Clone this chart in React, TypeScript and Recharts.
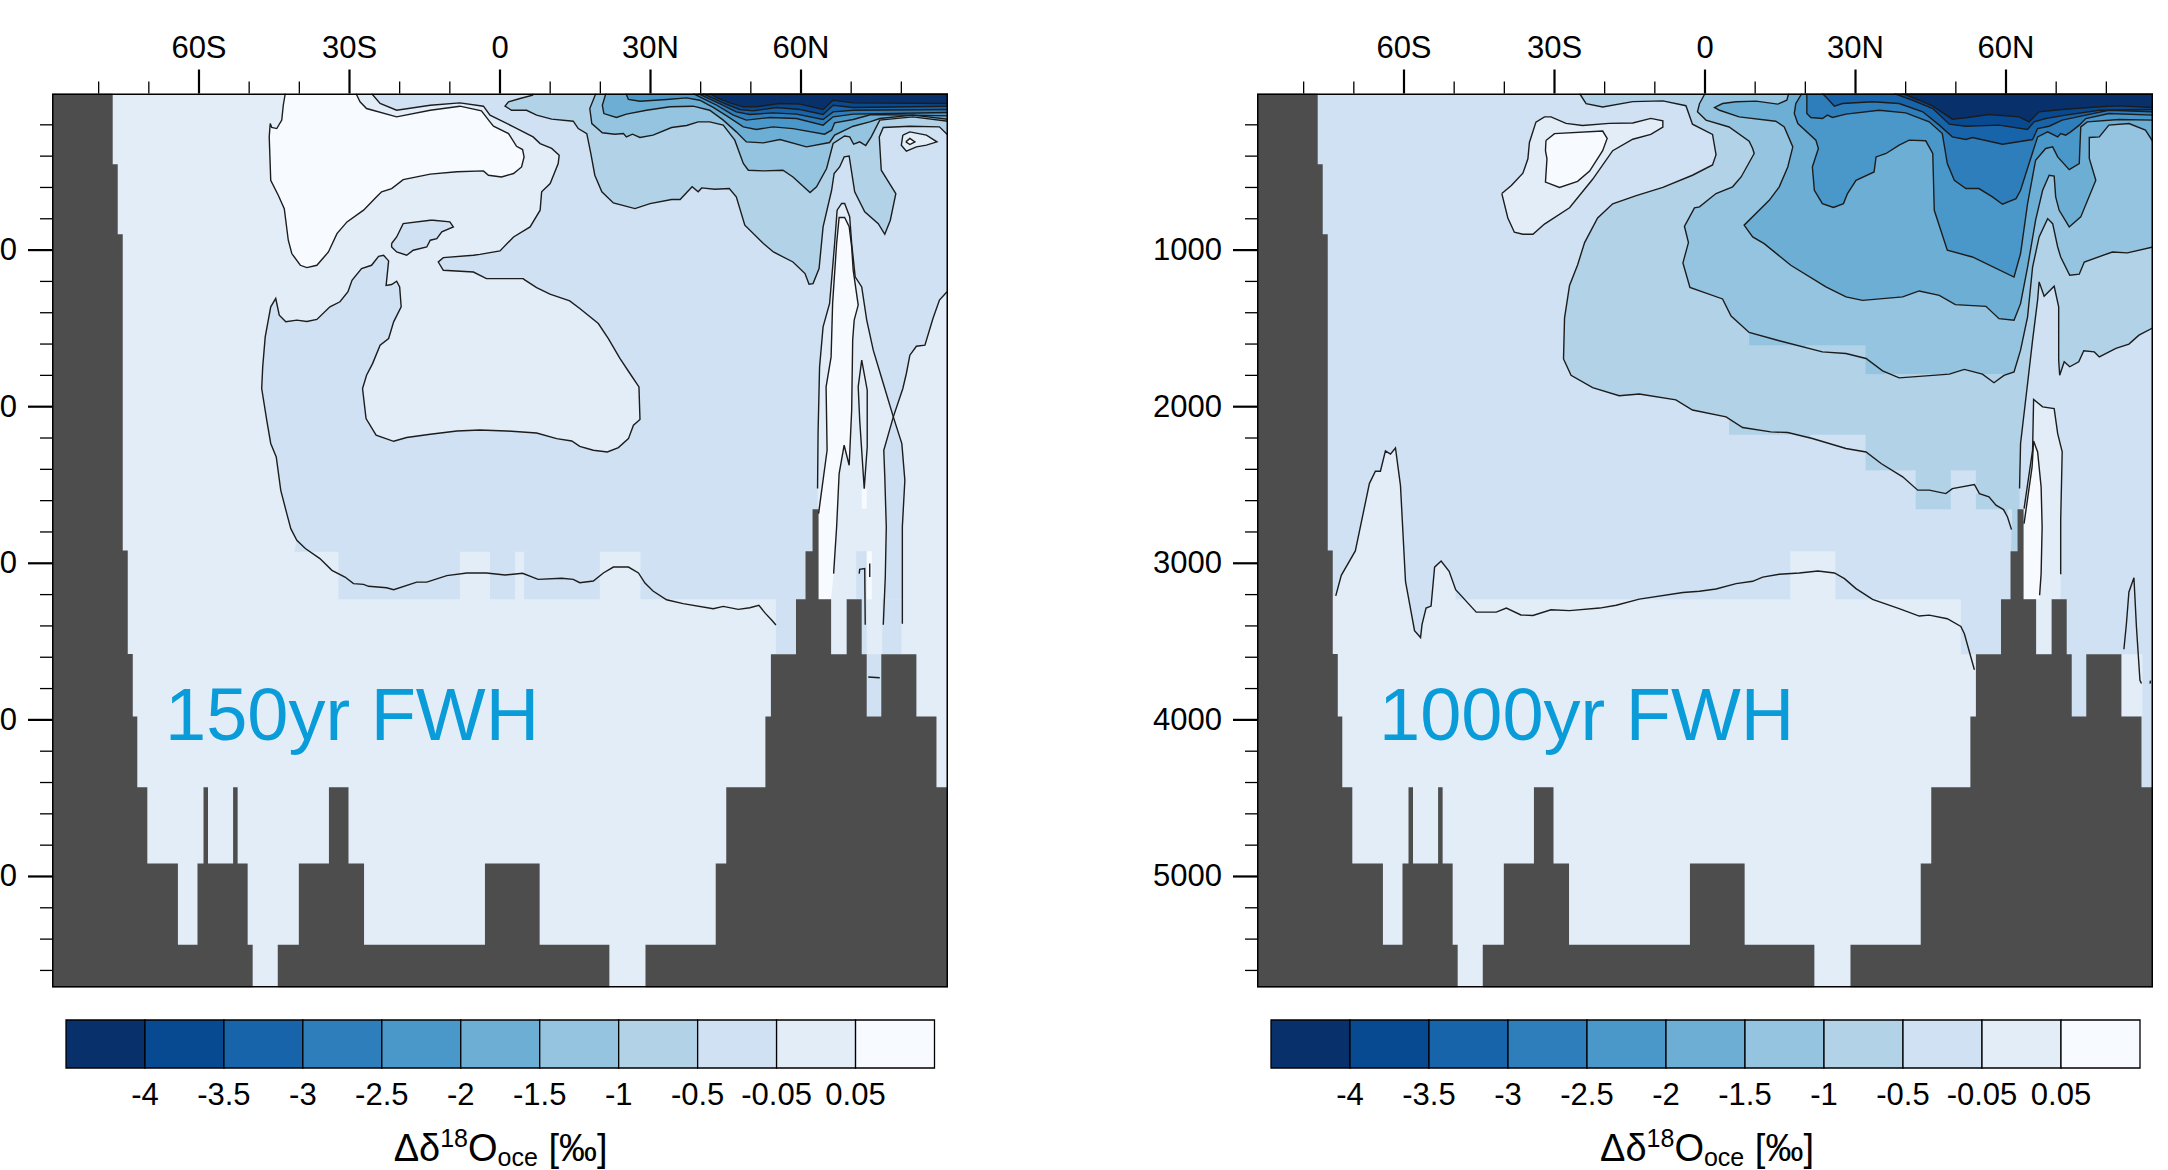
import React from 'react';
import { ComposedChart, BarChart, Bar, Scatter, XAxis, YAxis, Polygon } from 'recharts';

type P = [number, number];

const LAT_MIN = -89.3, LAT_MAX = 89.3, DEPTH_MAX = 5709;
const latTicks = [-80, -70, -60, -50, -40, -30, -20, -10, 0, 10, 20, 30, 40, 50, 60, 70, 80];
const latLabels: Record<number, string> = { [-60]: '60S', [-30]: '30S', 0: '0', 30: '30N', 60: '60N' };
const depthTicks = [200,400,600,800,1000,1200,1400,1600,1800,2000,2200,2400,2600,2800,3000,3200,3400,3600,3800,4000,4200,4400,4600,4800,5000,5200,5400,5600];

const C = { c1:'#08306b', c2:'#084a91', c3:'#1764ab', c4:'#2e7ebc', c5:'#4a98c9', c6:'#6daed5', c7:'#94c4df', c8:'#b2d2e8', c9:'#cfe1f2', c10:'#e2edf8', c11:'#f7fbff' };
const barColors = [C.c1,C.c2,C.c3,C.c4,C.c5,C.c6,C.c7,C.c8,C.c9,C.c10,C.c11];
const barLabels = ['-4','-3.5','-3','-2.5','-2','-1.5','-1','-0.5','-0.05','0.05'];

// Sea floor: lat edges and the depth of the floor in each column
const floorEdges = [-89.3,-77.2,-76.2,-75.2,-74.2,-73.2,-72.3,-70.3,-64.2,-60.3,-59.1,-58.2,-53.2,-52.3,-50.3,-49.3,-44.3,-40.1,-34.1,-30.2,-27.1,-3,7.9,21.8,29,43,45.1,52.9,54,59,60.9,62.3,63.5,66,69.1,72.1,73.1,76,83,87,89.3];
const floorDepths = [0,452,899,2919,3580,3978,4431,4917,5436,4917,4431,4917,4431,4917,5436,5709,5436,4917,4431,4917,5436,4917,5436,5709,5436,4917,4431,3978,3581,3230,2923,2655,3230,3581,3230,3581,3978,3581,3978,4431];

const domainBox: P[] = [[LAT_MIN,0],[LAT_MAX,0],[LAT_MAX,DEPTH_MAX],[LAT_MIN,DEPTH_MAX]];
const frameLine: P[] = [...domainBox, [LAT_MIN,0], [LAT_MAX,0]];

// ---------- 150yr panel ----------
const a05Upper: P[] = [[-25.6,0],[-23.9,64],[-20.6,107],[-13.9,75],[-8,60],[-3.3,81],[-2,138],[2.7,213],[6.6,277],[8,320],[10.3,351],[11.8,394],[11.6,447],[10,575],[8.3,628],[8,745],[6,852],[2.7,916],[0,1005],[-4,1027],[-5.3,1033],[-11.3,1048],[-12.3,1076],[-11.3,1129],[-5.3,1140],[-2.7,1182],[0,1182],[4.6,1182],[5,1192],[7.3,1239],[9.96,1281],[13.9,1324],[15.9,1373],[19.6,1469],[21.6,1565],[23.9,1692],[25.9,1788],[27.7,1874],[27.9,2082],[26.6,2118],[25.6,2204],[23.6,2261],[21.4,2289],[18.6,2278],[15.9,2253],[14.3,2219],[11.3,2204],[7.3,2168],[1.3,2155],[-4,2149],[-8.6,2155],[-13.9,2176],[-18.6,2197],[-21.2,2221],[-24.7,2182],[-26.7,2076],[-27.4,1884],[-26.6,1799],[-25.4,1725],[-23.9,1607],[-22.2,1565],[-21.2,1458],[-19.7,1362],[-20,1235],[-20.6,1199],[-21.6,1220],[-22.7,1225],[-22.2,1069],[-23.2,1033],[-24.2,1040],[-25.6,1097],[-27.6,1118],[-29.5,1193],[-30.3,1266],[-31.9,1330],[-33.9,1362],[-36.5,1443],[-38.5,1456],[-40.5,1447],[-42.7,1458],[-44,1416],[-44.7,1309]];
const a05West: P[] = [[-45.7,1362],[-46.8,1554],[-47.3,1746],[-47.5,1884],[-46.5,2086],[-45.7,2235],[-44.6,2321],[-43.7,2534],[-42.5,2683],[-41.7,2779],[-40.5,2853]];
const a05FloorLine: P[] = [[-38.8,2906],[-35.9,2970],[-33.5,3045],[-30.9,3088],[-29.2,3130],[-27.2,3135],[-26.2,3147],[-22.6,3156],[-21.2,3169],[-16.6,3120],[-14.6,3120],[-10.6,3079],[-6.6,3062],[-2.7,3062],[1,3075],[4.5,3064],[7.6,3103],[12.3,3096],[14.6,3103],[15.9,3124],[18.6,3113],[20.6,3062],[22.6,3024],[25.6,3024],[27.6,3062],[28.9,3126],[30.5,3177],[33.2,3233],[36.5,3258],[42.5,3290],[44.5,3275],[47.5,3294],[49.8,3284],[51.6,3269],[52.9,3320],[54.1,3361],[55,3394]];
const a05FloorBlocks: P[] = [[-41,2927],[-32.2,2927],[-32.2,3230],[-8,3230],[-8,2927],[-2,2927],[-2,3230],[3,3230],[3,2927],[4.8,2927],[4.8,3230],[19.9,3230],[19.9,2927],[28,2927],[28,3230],[55,3230],[55,3581],[59.3,3581],[59.3,3230],[89.3,3230],[89.3,0]];
const island: P[] = [[-21.6,958],[-20.6,916],[-19.3,831],[-13.9,809],[-13.3,809],[-10,820],[-9.3,852],[-11.6,884],[-12.6,927],[-13.9,937],[-14.6,980],[-17.3,1001],[-18.6,1033],[-20.6,1012],[-21.6,980],[-21.6,958]];
const whiteLobe: P[] = [[-42.8,0],[-43.2,75],[-43.5,170],[-44.5,224],[-45.5,217],[-45.8,192],[-46,277],[-45.7,554],[-44.2,650],[-43,735],[-42.2,937],[-41.5,1022],[-39.8,1097],[-38.5,1112],[-36.5,1097],[-34.2,1012],[-32.5,895],[-30.5,820],[-27.2,745],[-24.6,660],[-23.6,628],[-21.6,607],[-19.3,550],[-13.9,515],[-8.6,500],[-3.3,494],[-2.3,522],[0.3,533],[2.7,511],[4.3,469],[4.8,405],[4.5,358],[3.3,337],[1.7,256],[-1.3,209],[-2,181],[-3.7,111],[-8,81],[-13.9,107],[-20.6,149],[-26.6,96],[-27.9,53],[-28.7,0]];
const spikeUpper: P[] = [[63.3,2523],[63.4,2172],[63.7,1746],[64.4,1490],[65.7,1341],[66.7,958],[67.2,745],[68.1,702],[68.7,702],[69.7,787],[70.1,958],[70.8,1171],[72.1,1235],[73.1,1447],[74.4,1639],[76.4,1852],[78.4,2065]];
const spikeEastLower: P[] = [[80.1,2236],[80.7,2470],[80.2,2768],[80.2,3386]];
const eastUpper: P[] = [[89.1,1266],[87.6,1319],[86.3,1437],[84.7,1607],[83,1614],[81.7,1671],[81,1788],[80.3,1884],[78.4,2065]];
const eastLower: P[] = [[76.5,2278],[76.7,2448],[77,2768],[76.8,3087],[76.4,3392]];
const whiteSpike: P[] = [[63.5,2683],[65.2,2278],[65,1873],[66,1682],[66.3,1341],[67.1,958],[67.6,792],[68.7,792],[69.6,851],[70.1,979],[70.4,1128],[71.4,1351],[70.6,1447],[70.3,1575],[70.1,2023],[69.6,2374],[68.6,2246],[67.6,2427],[67.1,2768],[66.5,3066]];
const whiteSpikeClose: P[] = [[66,3230],[63.1,3230],[63.1,2661]];
const lens: P[] = [[72.1,1703],[73.2,1895],[73.2,2256],[72.6,2523],[71.7,2086],[71.4,1873],[72.1,1703]];
const stubA: P[] = [[71.6,3066],[71.7,3039],[72.7,3034],[72.8,3392]];
const stubB: P[] = [[73.7,3002],[73.7,3088]];
const stubC: P[] = [[73.4,3726],[75.7,3731]];
const patchA: P[] = [[71,2923],[73.1,2923],[73.1,3230],[71,3230]];
const patchB: P[] = [[72.1,3230],[73.1,3230],[73.1,3581],[72.1,3581]];
const patchC: P[] = [[73.1,3581],[76,3581],[76,3978],[73.1,3978]];
const patchD: P[] = [[76.2,3230],[80,3230],[80,3581],[76.2,3581]];
const patchW1: P[] = [[73.1,2923],[74.1,2923],[74.1,3230],[73.1,3230]];
const patchW2: P[] = [[72.1,2523],[73.1,2523],[73.1,2651],[72.1,2651]];

const k1: P[] = [[6.5,0],[6.5,11],[4,32],[1.7,53],[1,81],[2.3,107],[5.3,107],[7.3,138],[10.3,164],[14.6,177],[15.6,224],[17.3,256],[18.1,383],[18.9,522],[20.3,628],[22.6,699],[26.9,735],[29.9,703],[34.2,677],[35.9,677],[38.3,596],[39.5,628],[40.2,603],[42.8,611],[45.7,607],[47.1,660],[48.8,841],[52.5,958],[54.5,1012],[58.4,1076],[60.8,1150],[61.6,1218],[62.4,1214],[63.6,1118],[64.4,852],[66.1,618],[66.6,511],[67.7,469],[68.6,405],[69.6,400],[70.7,628],[72.7,756],[75.4,831],[76.7,899],[77.8,809],[78.9,639],[76,490],[75.6,277],[76.4,217],[81.7,209],[87.6,213],[89.3,266]];
const k2: P[] = [[19.1,0],[17.9,96],[18.3,192],[20.4,251],[22.9,260],[24.6,256],[25.2,277],[26.4,260],[27.9,281],[30.5,266],[34.2,217],[37.2,204],[39.5,181],[41.8,181],[44.5,202],[46.8,298],[48.5,447],[49.5,490],[52.5,494],[56.4,490],[58.4,533],[61.8,633],[63.1,596],[65.1,479],[66.4,319],[68.7,271],[69.7,277],[70.5,324],[71.7,309],[72.9,332],[74,277],[75.7,170],[82.3,149],[89.3,177]];
const k3: P[] = [[21.1,0],[20.4,75],[20.7,128],[23.2,153],[25.2,132],[29.2,107],[33.9,85],[38.5,81],[41.8,107],[44.5,170],[47.1,245],[49.1,309],[52.5,315],[55.8,294],[61.1,341],[65.7,313],[66.7,266],[70.4,209],[73.7,181],[75.7,160],[82.3,138],[89.3,164]];
const k4: P[] = [[25.1,0],[25.6,38],[27.9,49],[33.2,38],[37.2,28],[39.8,43],[42.5,89],[45.5,149],[48.5,213],[51.1,230],[54.4,213],[58.4,224],[64.7,260],[66.1,234],[66.7,187],[70.4,166],[74,134],[89.3,143]];
const k5: P[] = [[38.5,0],[40.5,32],[43.2,75],[46.5,138],[49.1,170],[53.8,153],[59.1,160],[64.4,202],[66.4,149],[70.4,132],[89.3,121]];
const k6: P[] = [[39.5,0],[41.2,26],[43.8,64],[47.1,117],[49.8,134],[54.4,124],[59.1,132],[64.4,166],[66.4,117],[70.4,107],[89.3,102]];
const k7: P[] = [[40.4,0],[42.2,26],[44.8,64],[47.8,102],[50.5,111],[55.1,89],[59.8,102],[64.4,134],[66.4,75],[70.4,89],[89.3,81]];
const k8: P[] = [[41.8,0],[43.2,26],[45.8,60],[48.5,85],[51.1,85],[55.8,64],[59.8,68],[64.4,102],[66.4,43],[70.4,60],[89.3,64]];
const blob: P[] = [[80.3,266],[81.7,245],[85,266],[87.1,309],[85,330],[83,341],[81,368],[80,330],[80.3,266]];
const diamond: P[] = [[80.9,309],[81.7,287],[82.7,309],[81.7,326],[80.9,309]];

const topRight: P[] = [[LAT_MAX,0]];

const fills150: [P[], string][] = [
  [domainBox, C.c10],
  [[...a05Upper, ...a05West, ...a05FloorBlocks], C.c9],
  [island, C.c9],
  [whiteLobe, C.c11],
  [[...spikeUpper, ...eastLower, [63.3,3392]], C.c10],
  [[...eastUpper, ...spikeEastLower, [LAT_MAX,3386], [LAT_MAX,1266]], C.c10],
  [[...whiteSpike, ...whiteSpikeClose], C.c11],
  [patchA, C.c9], [patchB, C.c9], [patchC, C.c9], [patchD, C.c9], [patchW1, C.c11], [patchW2, C.c11],
  [[...k1, ...topRight], C.c8], [[...k2, ...topRight], C.c7], [[...k3, ...topRight], C.c6], [[...k4, ...topRight], C.c5],
  [[...k5, ...topRight], C.c4], [[...k6, ...topRight], C.c3], [[...k7, ...topRight], C.c2], [[...k8, ...topRight], C.c1],
  [blob, C.c10], [diamond, C.c11],
];
const lines150: P[][] = [
  [...a05Upper, ...a05West, ...a05FloorLine], island, whiteLobe,
  k1, k2, k3, k4, k5, k6, k7, k8, blob, diamond,
  [...spikeUpper, ...spikeEastLower], [...eastUpper, ...eastLower], whiteSpike, lens, stubA, stubB, stubC,
];

// ---------- 1000yr panel ----------
const lowerLine: P[] = [[-73.6,3208],[-72.5,3077],[-69.7,2921],[-66.9,2491],[-65.7,2412],[-64.7,2412],[-63.7,2282],[-62.7,2303],[-61.7,2264],[-60.7,2504],[-59.7,3116],[-57.9,3430],[-56.7,3474],[-56.4,3390],[-55.6,3286],[-54.6,3273],[-53.9,3025],[-52.6,2986],[-51,3051],[-49.7,3169]];
const lowerLine2: P[] = [[-45.6,3312],[-41.6,3312],[-39.6,3286],[-36.7,3330],[-34.3,3333],[-30.7,3297],[-27,3302],[-21,3286],[-17.7,3268],[-13.1,3229],[-4.4,3187],[-1.1,3179],[2.2,3164],[6.2,3130],[9.5,3115],[11.5,3088],[14.8,3070],[18.8,3062],[22.5,3049],[25.8,3062],[27.8,3098],[30.1,3162],[33.4,3230],[38.7,3290],[42.7,3337],[44.7,3331],[48.3,3354],[51,3403],[51.7,3450],[53.7,3680]];
const lowerBlocks: P[] = [[-49.7,3230],[17,3230],[17,2923],[26,2923],[26,3230],[51,3230],[51,3581],[60,3581],[60,5709],[-75,5709],[-75,3208]];
const farEastPeak: P[] = [[83.5,3549],[84,3386],[84.5,3183],[85.5,3092],[86,3407],[86.7,3747],[87,3768]];
const farEastStub: P[] = [[88.7,3768],[88.8,3750]];
const farEastPatch: P[] = [[83,3581],[87.2,3581],[87.2,3978],[83,3978]];
const lobeLight: P[] = [[-40.5,639],[-38.6,587],[-36.3,509],[-35.3,417],[-35,313],[-33.7,183],[-32,149],[-30.7,149],[-27.7,191],[-24.4,204],[-19.1,191],[-14.4,188],[-10.8,159],[-8.4,175],[-8.4,214],[-10.8,261],[-14.4,292],[-18.4,365],[-22.4,548],[-27,730],[-32,834],[-34.3,899],[-36.3,899],[-38,886],[-39.3,795],[-40.5,639]];
const lobeWhite: P[] = [[-31.7,300],[-30,256],[-20.4,240],[-19.5,287],[-20.4,365],[-23,495],[-25.4,561],[-29,600],[-31.8,566],[-31.5,417],[-31.8,365],[-31.7,300]];
const r1West: P[] = [[-25,0],[-23.7,65],[-20.4,86],[-14.4,52],[-8.4,47],[-3.8,78],[-2.5,196],[1.5,261],[2.2,391],[1.5,456],[-2.5,522],[-8.4,600],[-13.7,652],[-18.4,704],[-21.4,795],[-24,952],[-25.4,1095],[-27,1226],[-28,1434],[-28.2,1695],[-26.7,1800],[-22.4,1878],[-17.1,1930],[-13.1,1919],[-5.8,1956],[-2.5,2021],[4.2,2065],[7.5,2133],[13.1,2161],[16.5,2165],[21.4,2203],[28.1,2267],[32.1,2289],[35.1,2363],[39.4,2448],[42.4,2533],[44.7,2533],[48,2555],[49.3,2523],[53.7,2497],[54.7,2555],[56.6,2576],[58,2629],[59.5,2657],[60.3,2704],[61.1,2785]];
const r1East: P[] = [[62.7,2523],[62.9,2235],[64.3,1852],[65.3,1575],[66.3,1320],[66.6,1203],[67.6,1295],[69.6,1231],[70.5,1363],[70.5,1704],[70.7,1799],[71.6,1713],[72.7,1745],[74.5,1713],[75.5,1643],[77.6,1650],[78.6,1682],[81.9,1628],[84.5,1600],[86.5,1543],[89.3,1496]];
const r1Gap: P[] = [[61,2923],[62.3,2923],[62.7,2650]];
const r2: P[] = [[0,0],[-1.1,65],[-1.5,117],[0.2,170],[4.8,214],[8.8,305],[9.5,351],[9.8,383],[7.2,533],[5.5,596],[2.2,639],[-1.1,724],[-2.1,730],[-4.1,848],[-3.3,952],[-4.4,1082],[-3,1239],[3.5,1312],[5.2,1421],[8.8,1526],[14.8,1579],[23.4,1650],[28.1,1660],[32.1,1692],[35.4,1771],[38.7,1816],[43.4,1805],[48.7,1792],[51.7,1762],[55.3,1792],[57.6,1847],[59.6,1800],[61.6,1778],[62.9,1639],[64.3,1426],[65.3,1108],[66.6,916],[68.3,799],[69.3,831],[70.3,980],[70.9,1044],[72.7,1161],[74.6,1154],[75.6,1076],[81.2,1012],[84.2,1018],[89.3,980]];
const r3: P[] = [[16.7,0],[16.3,43],[14.5,68],[10.2,49],[6.2,53],[3.5,64],[1.9,89],[2.9,107],[6.8,149],[14.1,177],[15.8,213],[17.5,341],[16.5,469],[14.8,596],[12.8,682],[7.8,841],[9.5,916],[11.8,959],[17.1,1097],[24.1,1235],[28.1,1299],[31.4,1321],[39.4,1299],[42.7,1261],[46.7,1289],[49.9,1348],[56,1359],[58.6,1438],[61.6,1448],[62.9,1342],[64.3,1108],[65.9,809],[67.3,618],[68.6,522],[69.6,528],[69.9,660],[70.6,746],[72.6,852],[74.9,788],[77.9,554],[76.6,415],[76.6,281],[78.6,277],[80.5,202],[84.5,192],[87.8,234],[89.3,309]];
const r4: P[] = [[19.3,0],[18.1,64],[17.8,128],[18.5,192],[22.1,298],[22.6,351],[21.4,469],[21.8,618],[23.4,703],[25.6,728],[27.6,703],[28.4,639],[30.1,554],[33.7,501],[34.1,405],[36.1,383],[38.7,330],[40.7,298],[44,302],[45.4,383],[45.7,746],[48.3,1001],[53.3,1044],[61.6,1172],[62.9,1022],[64.3,703],[65.9,426],[67.9,351],[69.3,341],[70.3,405],[72.6,486],[74.6,447],[74.9,213],[76.2,181],[82.5,166],[89.3,170]];
const r5: P[] = [[20.3,0],[20.3,128],[21.1,153],[23.4,160],[24.4,138],[25.4,153],[28.1,132],[34.7,107],[40,124],[44.7,181],[47.3,256],[48.3,447],[49.7,554],[52,607],[54.6,607],[57.3,660],[59.3,707],[62,671],[62.9,618],[64.6,447],[66.3,277],[68.3,245],[70.3,277],[70.9,256],[71.9,266],[72.9,245],[74.6,202],[75.9,160],[80.5,128],[89.3,138]];
const r6: P[] = [[23.4,0],[24.4,32],[25.8,81],[27.4,64],[33.4,53],[38.7,64],[43.4,117],[46.7,202],[49.3,277],[52,294],[53.3,281],[59.3,324],[65.3,294],[66.3,224],[68.6,209],[71.2,170],[75.9,138],[80.5,107],[89.3,117]];
const r7: P[] = [[37.7,0],[41.4,43],[45.4,96],[48.7,196],[52,209],[58.6,202],[64.3,230],[65.6,181],[67.9,160],[71.9,138],[78.6,107],[89.3,102]];
const r8: P[] = [[39.4,0],[42.7,43],[45.4,81],[49.3,164],[52,155],[56.6,134],[62.6,149],[64.6,181],[66.6,117],[71.2,102],[78.6,85],[82.5,79],[89.3,89]];
const lightPeak: P[] = [[70.9,3070],[70.9,2725],[71.2,2289],[70.3,2172],[69.6,2012],[67.3,2001],[65.5,1954],[65.3,2278],[63.6,2651]];
const lightPeakClose: P[] = [[63.6,3230],[66,3230],[66,3581],[69,3581],[69,3230],[70.9,3230]];
const whitePeak: P[] = [[66.7,3204],[67,3066],[67.2,2768],[67,2513],[66.3,2289],[65.5,2219],[65.2,2384],[63.6,2747]];
const whitePeakClose: P[] = [[63,2800],[63,3230],[66.7,3230]];
// Coarse grid cells where the fill runs past the smooth contour line
const cellsAbove1: P[][] = [
  [[4.8,2065],[17,2065],[17,2179],[4.8,2179]],
  [[32,2289],[37,2289],[37,2406],[32,2406]],
  [[42,2533],[49,2533],[49,2655],[42,2655]],
  [[54,2555],[59.5,2555],[59.5,2655],[54,2655]],
];
const cellsBelow1: P[][] = [
  [[21,2179],[32,2179],[32,2300],[21,2300]],
  [[37,2406],[42,2406],[42,2533],[37,2533]],
  [[49,2406],[54,2406],[54,2530],[49,2530]],
  [[60.3,2655],[61.2,2655],[61.2,2790],[60.3,2790]],
];
const cellsAbove2: P[][] = [
  [[8.8,1530],[20,1530],[20,1607],[8.8,1607]],
  [[32,1692],[36,1692],[36,1792],[32,1792]],
];
const cellsBelow2: P[][] = [
  [[20,1607],[32,1607],[32,1692],[20,1692]],
  [[36,1792],[61,1792],[61,1850],[36,1850]],
];

const fills1000: [P[], string][] = [
  [domainBox, C.c9],
  [[...lowerLine, ...lowerBlocks], C.c10],
  [farEastPatch, C.c10],
  [[...lightPeak, ...lightPeakClose], C.c10],
  [[...whitePeak, ...whitePeakClose], C.c11],
  [lobeLight, C.c10], [lobeWhite, C.c11],
  [[...r1West, ...r1Gap, ...r1East, ...topRight], C.c8],
  ...cellsAbove1.map((c): [P[], string] => [c, C.c8]),
  ...cellsBelow1.map((c): [P[], string] => [c, C.c9]),
  [[...r2, ...topRight], C.c7],
  ...cellsAbove2.map((c): [P[], string] => [c, C.c7]),
  ...cellsBelow2.map((c): [P[], string] => [c, C.c8]),
  [[...r3, ...topRight], C.c6], [[...r4, ...topRight], C.c5],
  [[...r5, ...topRight], C.c4], [[...r6, ...topRight], C.c3], [[...r7, ...topRight], C.c2], [[...r8, ...topRight], C.c1],
];
const lines1000: P[][] = [
  [...lowerLine, ...lowerLine2], farEastPeak, farEastStub, lobeLight, lobeWhite,
  r1West, r1East, r2, r3, r4, r5, r6, r7, r8, lightPeak, whitePeak,
];

const toPoints = (pts: P[]) => pts.map(([lat, depth]) => ({ lat, depth }));
const floorPolygon: P[] = [
  [LAT_MIN, DEPTH_MAX],
  ...floorDepths.flatMap((d, i): P[] => [[floorEdges[i], d], [floorEdges[i + 1], d]]),
  [LAT_MAX, DEPTH_MAX],
];

const NoPoint = () => <g />;
const FONT = '"Liberation Sans", Arial, sans-serif';

const TopTick = ({ x, y, payload }: any) => {
  const major = payload.value % 30 === 0;
  return (
    <g>
      <line x1={x} x2={x} y1={y} y2={y - (major ? 24 : 12)} stroke="#000" strokeWidth={major ? 2.2 : 1.3} />
      {major && <text x={x} y={y - 36} textAnchor="middle" fontSize={31} fontFamily={FONT} fill="#000">{latLabels[payload.value]}</text>}
    </g>
  );
};
const LeftTick = ({ x, y, payload }: any) => {
  const major = payload.value % 1000 === 0;
  return (
    <g>
      <line x1={x} x2={x - (major ? 24 : 12)} y1={y} y2={y} stroke="#000" strokeWidth={major ? 2.2 : 1.3} />
      {major && <text x={x - 35} y={y + 10} textAnchor="end" fontSize={31} fontFamily={FONT} fill="#000">{payload.value}</text>}
    </g>
  );
};
const polyLine = (color: string) => (p: any) => <Polygon points={p.points} fill={color} stroke="none" />;

function Panel({ left, fills, lines }: { left: number; fills: [P[], string][]; lines: P[][] }) {
  return (
    <div style={{ position: 'absolute', left, top: 0 }}>
      <ComposedChart width={1070} height={1000} margin={{ top: 33.5, left: 62, right: 22, bottom: 12.5 }}>
        <XAxis xAxisId={0} type="number" dataKey="lat" orientation="top" height={60} domain={[LAT_MIN, LAT_MAX]} allowDataOverflow
          ticks={latTicks} interval={0} tick={TopTick} tickLine={false} axisLine={false} tickSize={0} tickMargin={0} />
        <YAxis yAxisId={0} type="number" dataKey="depth" reversed width={90} domain={[0, DEPTH_MAX]} allowDataOverflow
          ticks={depthTicks} interval={0} tick={LeftTick} tickLine={false} axisLine={false} tickSize={0} tickMargin={0} />
        {fills.map(([pts, color], i) => (
          <Scatter key={'f' + i} data={toPoints(pts)} isAnimationActive={false} shape={NoPoint} line={polyLine(color)} legendType="none" />
        ))}
        <Scatter key="floor" data={toPoints(floorPolygon)} isAnimationActive={false} shape={NoPoint} line={polyLine('#4d4d4d')} legendType="none" />
        {lines.map((pts, i) => (
          <Scatter key={'l' + i} data={toPoints(pts)} isAnimationActive={false} shape={NoPoint} line={{ stroke: '#1c1c1c', strokeWidth: 1.4 }} legendType="none" />
        ))}
        <Scatter key="frame" data={toPoints(frameLine)} isAnimationActive={false} shape={NoPoint} line={{ stroke: '#000', strokeWidth: 3 }} legendType="none" />
      </ComposedChart>
    </div>
  );
}

const barRow = [Object.fromEntries(barColors.map((_, i) => ['c' + i, 1]))];
const BarTick = ({ x, y, payload }: any) => (
  <text x={x} y={y + 37} textAnchor="middle" fontSize={31} fontFamily={FONT} fill="#000">{barLabels[payload.value - 1]}</text>
);

function ColorBar({ left, width }: { left: number; width: number }) {
  return (
    <div style={{ position: 'absolute', left: left - 4, top: 1016 }}>
      <BarChart width={width + 8} height={100} data={barRow} layout="vertical" barCategoryGap={0} margin={{ top: 4, left: 4, right: 4, bottom: 0 }}>
        <XAxis type="number" domain={[0, 11]} ticks={[1,2,3,4,5,6,7,8,9,10]} interval={0} height={48} tick={BarTick} tickLine={false} axisLine={false} tickSize={0} tickMargin={0} />
        <YAxis type="category" hide />
        {barColors.map((c, i) => (
          <Bar key={i} dataKey={'c' + i} stackId="a" fill={c} stroke="#000" strokeWidth={1.3} isAnimationActive={false} />
        ))}
      </BarChart>
    </div>
  );
}

const Title = ({ center }: { center: number }) => (
  <div style={{ position: 'absolute', left: center - 200, width: 400, top: 1126, textAlign: 'center', fontFamily: FONT, fontSize: 38, lineHeight: '44px', whiteSpace: 'nowrap', color: '#000' }}>
    Δδ<sup style={{ fontSize: 25, lineHeight: 0 }}>18</sup>O<sub style={{ fontSize: 25, lineHeight: 0, verticalAlign: '-5px' }}>oce</sub> [‰]
  </div>
);
const Banner = ({ left, text }: { left: number; text: string }) => (
  <div style={{ position: 'absolute', left, top: 678, fontFamily: FONT, fontSize: 74, lineHeight: '74px', color: '#0a9bd9', whiteSpace: 'nowrap' }}>{text}</div>
);

export default function App() {
  return (
    <div style={{ position: 'absolute', left: 0, top: 0, width: 2168, height: 1170, overflow: 'hidden', background: '#fff' }}>
      <Panel left={-100} fills={fills150} lines={lines150} />
      <Panel left={1105} fills={fills1000} lines={lines1000} />
      <ColorBar left={65.5} width={868.5} />
      <ColorBar left={1271} width={869} />
      <Title center={500.6} />
      <Title center={1707} />
      <Banner left={165} text="150yr FWH" />
      <Banner left={1379} text="1000yr FWH" />
    </div>
  );
}
